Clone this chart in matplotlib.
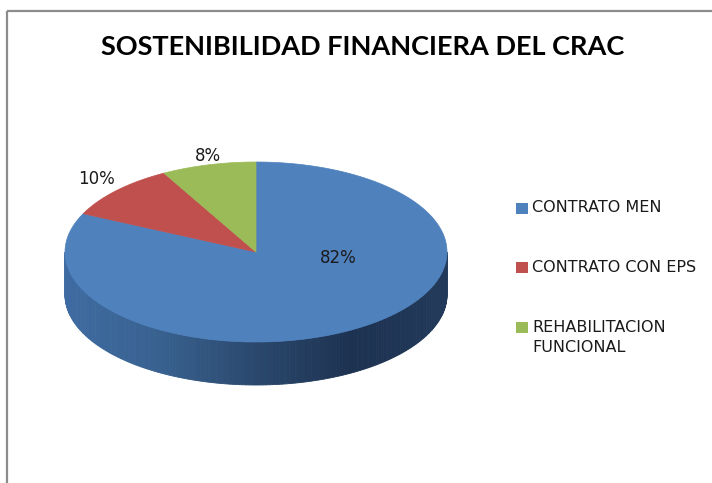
import numpy as np
import matplotlib
matplotlib.use('Agg')
import matplotlib.pyplot as plt
from matplotlib.patches import Polygon, Rectangle
from matplotlib.colors import LinearSegmentedColormap

# chart data
title = 'SOSTENIBILIDAD FINANCIERA DEL CRAC'
labels = ['CONTRATO MEN', 'CONTRATO CON EPS', 'REHABILITACION\nFUNCIONAL']
shares = [82, 10, 8]
pct_text = ['82%', '10%', '8%']
colors = ['#4f81bd', '#c0504d', '#9bbb59']

# layout of the pseudo-3d pie (pixels)
cx, cy = 256, 252      # centre of top face
a, b = 191, 90         # ellipse half axes
depth = 43
pct_pos = [(338, 258), (97, 179), (208, 156)]
legend_y = [208, 267, 327]

fig = plt.figure(figsize=(7.12, 4.83), dpi=100)
ax = fig.add_axes([0, 0, 1, 1])
ax.set_xlim(0, 712)
ax.set_ylim(483, 0)
ax.axis('off')

# chart frame (only top and left edge visible)
ax.add_patch(Rectangle((6.5, 10.5), 900, 700, fill=False, ec='#8c8c8c', lw=1.6))


def ell(t):
    t = np.radians(t)
    return cx + a * np.cos(t), cy - b * np.sin(t)


# side of the pie: front half, shaded by x position
side_cmap = LinearSegmentedColormap.from_list(
    'side', ['#3e6ba2', '#38618f', '#2a486d', '#1d3251', '#22395a'],
)
ts = np.linspace(180, 360, 181)
for t0, t1 in zip(ts[:-1], ts[1:]):
    x0, y0 = ell(t0)
    x1, y1 = ell(t1)
    f = ((x0 + x1) / 2 - (cx - a)) / (2 * a)
    ax.add_patch(Polygon([(x0, y0), (x1, y1), (x1, y1 + depth), (x0, y0 + depth)],
                         closed=True, fc=side_cmap(f), ec=side_cmap(f), lw=0.6))

# top face wedges, clockwise from 12 o'clock
start = 90.0
total = sum(shares)
for val, col in zip(shares, colors):
    sweep = 360.0 * val / total
    tt = np.linspace(start, start - sweep, 200)
    xs, ys = ell(tt)
    pts = [(cx, cy)] + list(zip(xs, ys))
    ax.add_patch(Polygon(pts, closed=True, fc=col, ec=col, lw=0.5))
    start -= sweep

for txt, (x, y) in zip(pct_text, pct_pos):
    ax.text(x, y, txt, ha='center', va='center', fontsize=12,
            family='DejaVu Sans', color='#1a1a1a')

ax.text(363, 47, title, ha='center', va='center', fontsize=19.5,
        fontweight='bold', family='Lato', color='black')

# legend
for lab, col, y in zip(labels, colors, legend_y):
    ax.add_patch(Rectangle((516, y - 5), 12, 11, fc=col, ec='none'))
    ax.text(532, y - 7.5, lab, ha='left', va='top', fontsize=11.5,
            family='DejaVu Sans', color='#1a1a1a', linespacing=1.5)

fig.savefig('out.png', dpi=100, facecolor='white')
